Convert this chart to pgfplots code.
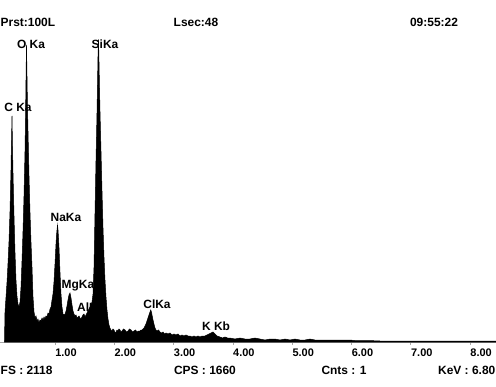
\documentclass[border=0pt]{standalone}
\usepackage{fontspec}
\setmainfont{Liberation Sans}
\usepackage{pgfplots}
\pgfplotsset{compat=1.18}
\begin{document}
\begin{tikzpicture}[x=1bp,y=1bp]
\path[use as bounding box] (0,-44) rectangle (496,342);
\tikzset{lab/.style={font=\fontsize{12}{14}\selectfont\bfseries, inner sep=0pt}}
\node[lab, anchor=west] at (77,35) {AlKa};
\begin{axis}[
  at={(0,0)}, anchor=origin,
  scale only axis, width=496bp, height=342bp,
  xmin=0.0725, xmax=8.437, ymin=0, ymax=2394,
  axis x line=bottom, axis y line=none, ytick=\empty,
  x axis line style={-, draw=gray!70, line width=0.6bp},
  xtick={1,2,3,4,5,6,7,8},
  xticklabels={1.00,2.00,3.00,4.00,5.00,6.00,7.00,8.00},
  tick align=outside, major tick length=3bp,
  tick style={gray!70, line width=0.6bp},
  xticklabel style={font=\fontsize{11}{13}\selectfont\bfseries, xshift=11bp},
  clip=false]
\addplot[fill=black, draw=black, line width=0.5bp] coordinates {
(0.148,0) (0.157,210) (0.174,315) (0.191,420) (0.207,546) (0.224,700) (0.241,910)
(0.258,1204) (0.266,1400) (0.275,1582) (0.283,1372) (0.292,1176) (0.309,875)
(0.325,630) (0.342,434) (0.359,322) (0.376,266) (0.393,245) (0.410,280) (0.427,385)
(0.443,560) (0.460,770) (0.477,1015) (0.494,1330) (0.503,1575) (0.511,1834)
(0.519,2079) (0.528,1855) (0.536,1645) (0.545,1470) (0.562,1155) (0.578,910)
(0.595,700) (0.612,525) (0.629,315) (0.646,210) (0.663,168) (0.680,182) (0.696,147)
(0.713,161) (0.730,133) (0.747,154) (0.764,147) (0.781,168) (0.798,154) (0.815,175)
(0.831,161) (0.848,182) (0.865,175) (0.882,203) (0.899,196) (0.916,231) (0.933,245)
(0.950,294) (0.966,336) (0.983,420) (1.000,546) (1.017,686) (1.025,742) (1.034,784)
(1.042,819) (1.051,784) (1.059,728) (1.067,665) (1.084,490) (1.101,336) (1.118,245)
(1.135,196) (1.152,189) (1.169,196) (1.186,217) (1.202,252) (1.219,294) (1.236,329)
(1.253,343) (1.270,308) (1.287,259) (1.304,217) (1.320,196) (1.337,182) (1.354,189)
(1.371,168) (1.388,175) (1.405,182) (1.422,168) (1.438,161) (1.455,175) (1.472,189)
(1.489,196) (1.506,175) (1.523,189) (1.540,203) (1.556,217) (1.573,231) (1.590,245)
(1.607,259) (1.624,280) (1.641,336) (1.658,525) (1.675,910) (1.691,1260) (1.708,1596)
(1.717,1806) (1.725,1995) (1.734,2118) (1.742,1960) (1.750,1785) (1.759,1610)
(1.776,1330) (1.793,1050) (1.809,805) (1.826,595) (1.843,434) (1.860,315) (1.877,224)
(1.894,161) (1.911,119) (1.927,98) (1.944,84) (1.961,77) (1.978,91) (1.995,84)
(2.012,63) (2.029,70) (2.046,84) (2.062,77) (2.079,91) (2.096,84) (2.113,70)
(2.130,77) (2.155,91) (2.180,84) (2.205,70) (2.231,77) (2.256,91) (2.282,84)
(2.307,70) (2.332,77) (2.358,84) (2.383,70) (2.408,77) (2.433,77) (2.450,84)
(2.467,84) (2.484,91) (2.501,98) (2.518,112) (2.534,126) (2.551,147) (2.568,168)
(2.585,189) (2.602,210) (2.614,224) (2.627,210) (2.636,189) (2.653,154) (2.669,126)
(2.686,98) (2.703,84) (2.720,77) (2.746,84) (2.771,70) (2.796,63) (2.821,70)
(2.847,56) (2.872,63) (2.906,56) (2.939,63) (2.973,49) (3.007,56) (3.040,49)
(3.074,56) (3.108,42) (3.142,49) (3.175,42) (3.209,49) (3.243,42) (3.277,42)
(3.310,35) (3.344,42) (3.378,35) (3.411,42) (3.445,35) (3.479,42) (3.529,42)
(3.563,49) (3.597,56) (3.631,63) (3.664,70) (3.698,56) (3.732,42) (3.782,35)
(3.825,28) (3.867,35) (3.910,28) (3.951,28) (4.035,21) (4.120,28) (4.204,21)
(4.288,21) (4.372,28) (4.457,21) (4.541,14) (4.626,21) (4.710,21) (4.794,14)
(4.879,21) (4.963,14) (5.047,21) (5.131,14) (5.216,14) (5.300,21) (5.384,14)
(5.469,14) (5.553,14) (5.637,14) (5.722,14) (5.806,14) (5.890,14) (5.975,14)
(6.059,10) (6.143,10) (6.312,10) (6.480,7) (6.649,7) (6.818,7) (6.986,7)
(7.155,7) (7.324,7) (7.492,7) (7.661,7) (7.829,7) (7.998,7) (8.167,7) (8.300,7)
(8.437,7)
} \closedcycle;
\end{axis}
\node[lab, anchor=west] at (0.5,320) {Prst:100L};
\node[lab] at (196,320) {Lsec:48};
\node[lab] at (434,320) {09:55:22};
\node[lab, anchor=west] at (0.5,-28) {FS : 2118};
\node[lab] at (205,-28) {CPS : 1660};
\node[lab] at (344,-28) {Cnts : 1};
\node[lab, anchor=east] at (495.5,-28) {KeV : 6.80};
\node[lab] at (18,235) {C Ka};
\node[lab] at (31,298) {O Ka};
\node[lab] at (105,298) {SiKa};
\node[lab] at (66,125) {NaKa};
\node[lab] at (78,56) {MgKa};
\node[lab] at (157,38) {ClKa};
\node[lab] at (216,16) {K Kb};
\end{tikzpicture}
\end{document}
